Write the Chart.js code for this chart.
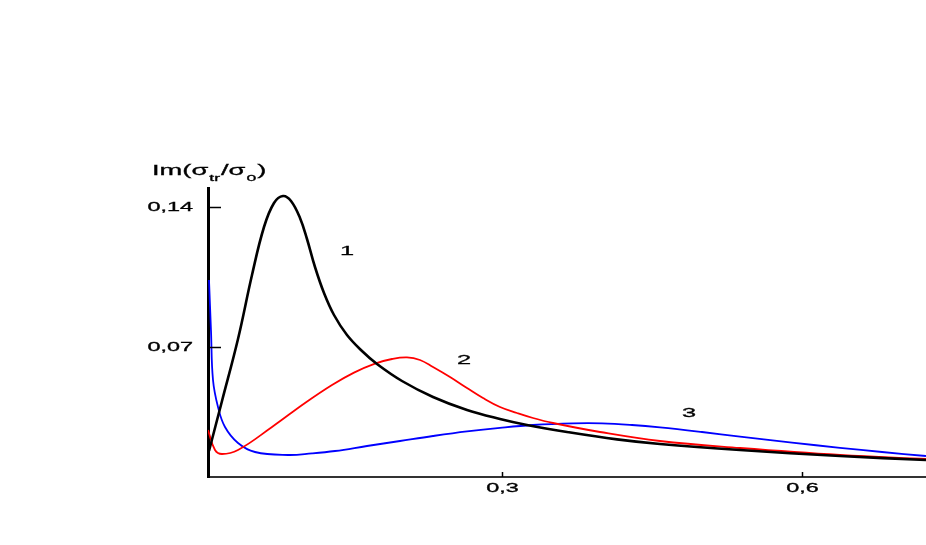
<!DOCTYPE html>
<html lang="en">
<head>
  <meta charset="UTF-8">
  <title>Im(σtr/σ0)</title>
  <style>
    html, body { margin: 0; padding: 0; background: #fff; }
    .chart-container { width: 926px; height: 545px; }
  </style>
</head>
<body>
  <div class="chart-container">
    <canvas id="myChart"></canvas>
  </div>

  <script src="https://cdn.jsdelivr.net/npm/chart.js"></script>
  <script>
    // Curve 1 (black)
    const x1 = [0.007, 0.020, 0.036, 0.050, 0.062, 0.072, 0.081, 0.089, 0.098, 0.105, 0.113, 0.122, 0.132, 0.145, 0.160, 0.175, 0.200, 0.231, 0.265, 0.298, 0.325, 0.365, 0.415, 0.458, 0.538, 0.638, 0.724];
    const y1 = [0.018, 0.043, 0.074, 0.106, 0.130, 0.142, 0.1455, 0.143, 0.1345, 0.124, 0.110, 0.097, 0.086, 0.076, 0.068, 0.0615, 0.053, 0.045, 0.0385, 0.034, 0.031, 0.0275, 0.0238, 0.0215, 0.0185, 0.0155, 0.0135];

    // Curve 2 (red)
    const x2 = [0.006, 0.013, 0.020, 0.036, 0.070, 0.103, 0.130, 0.152, 0.173, 0.190, 0.205, 0.218, 0.231, 0.248, 0.265, 0.281, 0.298, 0.315, 0.331, 0.351, 0.398, 0.458, 0.538, 0.638, 0.724];
    const y2 = [0.0285, 0.0185, 0.0165, 0.0185, 0.030, 0.042, 0.051, 0.0572, 0.0617, 0.0640, 0.0648, 0.0635, 0.060, 0.055, 0.0495, 0.0445, 0.040, 0.037, 0.0345, 0.032, 0.0275, 0.023, 0.0195, 0.016, 0.014];

    // Curve 3 (blue)
    const x3 = [0.007, 0.009, 0.011, 0.016, 0.023, 0.036, 0.053, 0.086, 0.110, 0.133, 0.165, 0.198, 0.231, 0.265, 0.298, 0.331, 0.371, 0.400, 0.430, 0.458, 0.500, 0.538, 0.590, 0.638, 0.680, 0.724];
    const y3 = [0.1035, 0.078, 0.0535, 0.040, 0.030, 0.022, 0.0175, 0.016, 0.0168, 0.018, 0.0205, 0.023, 0.0255, 0.0278, 0.0296, 0.031, 0.0318, 0.0318, 0.031, 0.0298, 0.0275, 0.0252, 0.0222, 0.0196, 0.0175, 0.0155];

    // Tick values
    const xTicks = [0.3, 0.6];
    const yTicks = [0.07, 0.14];

    // Curve numbers, placed in data coordinates
    const curveNames = ['1', '2', '3'];
    const curveNameX = [0.145, 0.262, 0.487];
    const curveNameY = [0.118, 0.0635, 0.037];

    const FONT = '"Liberation Sans", Arial, sans-serif';
    const STRETCH = 1.95; // the original lettering is drawn wide
    const comma = v => String(v).replace('.', ',');
    const pts = (xs, ys) => xs.map((x, i) => ({x, y: ys[i]}));

    // draw text stretched horizontally, anchored at (px, py)
    function wideText(ctx, text, px, py, size, align) {
      ctx.save();
      ctx.font = size + 'px ' + FONT;
      ctx.textAlign = align;
      ctx.translate(px, py);
      ctx.scale(STRETCH, 1);
      ctx.lineWidth = 0.3;
      ctx.fillText(text, 0, 0);
      ctx.strokeText(text, 0, 0);
      ctx.restore();
    }

    // inward ticks, tick labels, curve numbers and the y axis title
    const decorPlugin = {
      id: 'decor',
      afterDraw(chart) {
        const {ctx, scales: {x, y}} = chart;
        ctx.save();
        ctx.strokeStyle = '#000';
        ctx.fillStyle = '#000';
        ctx.lineWidth = 1.5;
        ctx.textBaseline = 'middle';
        yTicks.forEach(v => {
          const py = Math.round(y.getPixelForValue(v)) + 0.5;
          ctx.beginPath();
          ctx.moveTo(x.left, py);
          ctx.lineTo(x.left + 13, py);
          ctx.stroke();
          wideText(ctx, comma(v), 193, py, 12, 'right');
        });
        xTicks.forEach(v => {
          const px = Math.round(x.getPixelForValue(v)) + 0.5;
          ctx.beginPath();
          ctx.moveTo(px, y.bottom);
          ctx.lineTo(px, y.bottom - 5);
          ctx.stroke();
          wideText(ctx, comma(v), px, 489, 12, 'center');
        });

        curveNames.forEach((n, i) => {
          wideText(ctx, n, x.getPixelForValue(curveNameX[i]), y.getPixelForValue(curveNameY[i]), 13, 'center');
        });

        // Im(σtr/σ0)
        ctx.textBaseline = 'alphabetic';
        const parts = [['Im(σ', 14, 0], ['tr', 9, 6], ['/σ', 14, 0], ['0', 9, 6], [')', 14, 0]];
        let cx = 152;
        const base = 175;
        parts.forEach(([t, size, dy]) => {
          wideText(ctx, t, cx, base + dy, size, 'left');
          ctx.font = size + 'px ' + FONT;
          cx += ctx.measureText(t).width * STRETCH + 1;
        });
        ctx.restore();
      }
    };

    function drawChart() {
      const canvas = document.querySelector('#myChart');
      const common = {pointRadius: 0, fill: false, tension: 0.4};
      const config = {
        type: 'line',
        data: {
          datasets: [
            {...common, label: '1', data: pts(x1, y1), borderColor: '#000', borderWidth: 2.6},
            {...common, label: '2', data: pts(x2, y2), borderColor: '#ff0000', borderWidth: 1.8},
            {...common, label: '3', data: pts(x3, y3), borderColor: '#0000ff', borderWidth: 1.8}
          ]
        },
        options: {
          responsive: false,
          animation: false,
          layout: {padding: {left: 0, right: 0, top: 188, bottom: 0}},
          plugins: {legend: {display: false}, tooltip: {enabled: false}},
          scales: {
            x: {
              type: 'linear',
              min: 0.006,
              max: 0.724,
              afterBuildTicks: s => { s.ticks = xTicks.map(value => ({value})); },
              afterFit: s => { s.height = 68; },
              grid: {display: true, drawOnChartArea: false, drawTicks: false},
              border: {display: true, color: '#333', width: 2},
              ticks: {display: false}
            },
            y: {
              min: 0.005,
              max: 0.1495,
              afterBuildTicks: s => { s.ticks = yTicks.map(value => ({value})); },
              afterFit: s => { s.width = 208; },
              grid: {display: true, drawOnChartArea: false, drawTicks: false},
              border: {display: true, color: '#000', width: 3},
              ticks: {display: false}
            }
          }
        },
        plugins: [decorPlugin]
      };
      canvas.width = 926;
      canvas.height = 545;
      return new Chart(canvas, config);
    }

    const chart = drawChart();
    window.chart = chart;
  </script>
</body>
</html>
